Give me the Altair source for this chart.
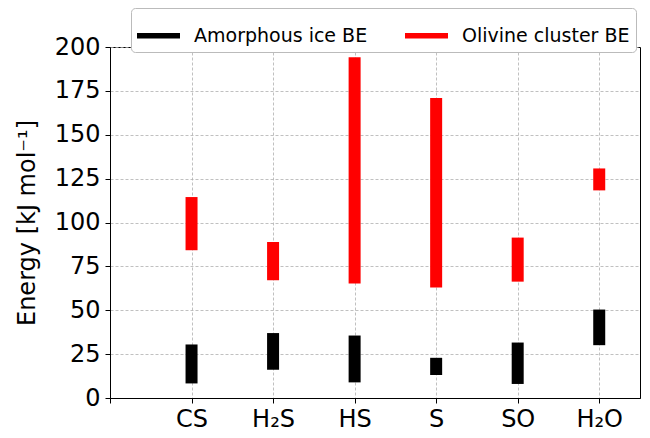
import json
import altair as alt
import pandas as pd

categories = ["CS", "H₂S", "HS", "S", "SO", "H₂O"]
ice_low = [8.3, 16.1, 8.9, 13.1, 8.0, 30.1]
ice_high = [30.5, 37.0, 35.6, 22.9, 31.6, 50.4]
oliv_low = [84.2, 67.1, 65.2, 62.9, 66.3, 118.3]
oliv_high = [114.5, 88.9, 194.1, 171.0, 91.4, 130.8]
series = ["Amorphous ice BE", "Olivine cluster BE"]
colors = ["#000000", "#ff0000"]

rows = []
for i, c in enumerate(categories):
    rows.append({"cat": c, "pos": i + 1, "series": series[0], "lo": ice_low[i], "hi": ice_high[i]})
    rows.append({"cat": c, "pos": i + 1, "series": series[1], "lo": oliv_low[i], "hi": oliv_high[i]})
df = pd.DataFrame(rows)

label_expr = "datum.value == 0 ? '' : " + json.dumps(categories, ensure_ascii=False) + "[datum.value - 1]"

FONT = "DejaVu Sans"

chart = alt.Chart(df).mark_bar(size=12).encode(
    x=alt.X("pos:Q", scale=alt.Scale(domain=[0, 6.5], nice=False, zero=False, padding=0),
            axis=alt.Axis(values=[0, 1, 2, 3, 4, 5, 6], labelExpr=label_expr, title=None,
                          labelFontSize=24, labelPadding=4)),
    y=alt.Y("lo:Q", scale=alt.Scale(domain=[0, 200], nice=False, padding=0),
            axis=alt.Axis(values=list(range(0, 201, 25)), title="Energy [kJ mol⁻¹]",
                          labelFontSize=24, titleFontSize=24, titleFontWeight="normal",
                          titlePadding=15, labelPadding=5)),
    y2="hi:Q",
    color=alt.Color("series:N", scale=alt.Scale(domain=series, range=colors),
                    legend=alt.Legend(title=None, orient="none", direction="horizontal",
                                      legendX=21, legendY=-39,
                                      symbolType="M-1,-0.13H1V0.13H-1Z", symbolSize=1849,
                                      symbolStrokeWidth=0, labelFontSize=19, labelOffset=14,
                                      labelLimit=400,
                                      columnPadding=37, padding=6,
                                      fillColor="white", strokeColor="#bbbbbb",
                                      cornerRadius=4)),
).properties(
    width=530, height=351,
    autosize=alt.AutoSizeParams(type="none"),
    padding={"left": 102, "top": 39, "right": 2, "bottom": 38},
).configure(
    font=FONT,
).configure_view(
    stroke="black", strokeWidth=1,
).configure_axis(
    labelFont=FONT, titleFont=FONT, labelColor="black", titleColor="black",
    domainColor="black", tickColor="black", tickSize=5,
    grid=True, gridColor="#b0b0b0", gridDash=[3, 2], gridWidth=0.8,
).configure_legend(
    labelFont=FONT, labelColor="black",
)

chart.save("out.html", embed_options={"renderer": "svg", "actions": False})
